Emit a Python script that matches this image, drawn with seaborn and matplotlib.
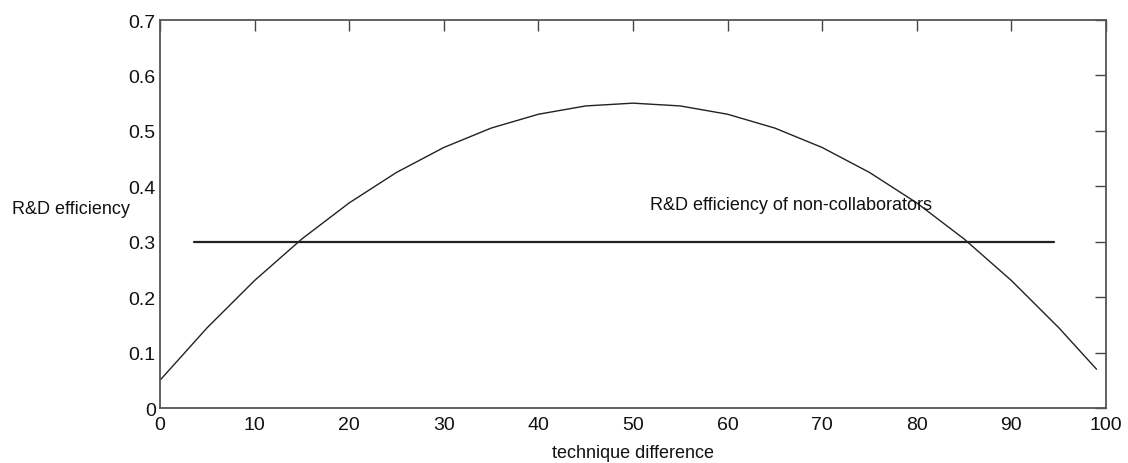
import numpy as np
import pandas as pd
import seaborn as sns
import matplotlib
matplotlib.use("Agg")
import matplotlib.pyplot as plt

# values
diff = [0, 5, 10, 15, 20, 25, 30, 35, 40, 45, 50, 55, 60, 65, 70, 75, 80, 85, 90, 95, 99]
eff = [0.05, 0.145, 0.23, 0.305, 0.37, 0.425, 0.47, 0.505, 0.53, 0.545, 0.55,
       0.545, 0.53, 0.505, 0.47, 0.425, 0.37, 0.305, 0.23, 0.145, 0.07]
noncollab_x = [3.6, 94.5]
noncollab_y = [0.3, 0.3]

sns.set_style("white")
plt.rcParams['font.family'] = ['Liberation Sans', 'DejaVu Sans']

df = pd.DataFrame({"technique difference": diff, "R&D efficiency": eff})

fig = plt.figure(figsize=(11.28, 4.64), dpi=100)
ax = fig.add_axes([0.1418, 0.1185, 0.8387, 0.8362])

sns.lineplot(data=df, x="technique difference", y="R&D efficiency", ax=ax,
             color="#222222", linewidth=1.0)
sns.lineplot(x=noncollab_x, y=noncollab_y, ax=ax, color="#222222", linewidth=1.6)

ax.text(51.8, 0.352, "R&D efficiency of non-collaborators", fontsize=13,
        color="#111111", ha="left", va="bottom")

ax.set_xlim(0, 100)
ax.set_ylim(0, 0.7)
ax.set_xticks(range(0, 101, 10))
ax.set_yticks([0, 0.1, 0.2, 0.3, 0.4, 0.5, 0.6, 0.7])
ax.set_yticklabels(["0", "0.1", "0.2", "0.3", "0.4", "0.5", "0.6", "0.7"])
ax.tick_params(direction="in", length=8, width=1, colors="#444444",
               top=True, right=True, labelsize=14, labelcolor="#111111")
ax.tick_params(axis="x", pad=6)
ax.tick_params(axis="y", pad=3)
for s in ax.spines.values():
    s.set_color("#555555")
    s.set_linewidth(1.3)

ax.set_xlabel("technique difference", fontsize=13, color="#111111", labelpad=8)
ax.set_ylabel("R&D efficiency", fontsize=13, color="#111111", rotation=0,
              ha="left", va="center")
ax.yaxis.set_label_coords(-0.156, 0.513)

fig.savefig("out.png", dpi=100)
